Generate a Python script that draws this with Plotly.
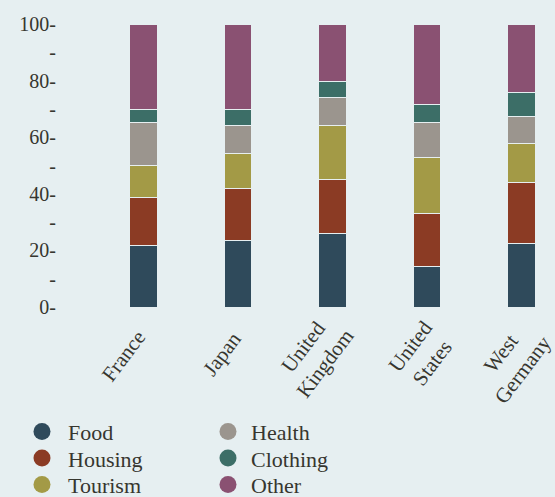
import plotly.graph_objects as go

countries = ["France", "Japan", "United Kingdom", "United States", "West Germany"]
country_labels = ["France", "Japan", "United<br>Kingdom", "United<br>States", "West<br>Germany"]
categories = ["Food", "Housing", "Tourism", "Health", "Clothing", "Other"]
food = [21.8, 23.4, 26.0, 14.2, 22.4]
housing = [16.8, 18.3, 19.2, 18.9, 21.5]
tourism = [11.3, 12.6, 18.8, 19.7, 14.0]
health = [15.3, 10.0, 10.0, 12.4, 9.4]
clothing = [4.5, 5.6, 5.7, 6.2, 8.5]
other = [30.3, 30.1, 20.3, 28.6, 24.2]
series = [food, housing, tourism, health, clothing, other]
colors = ["#2f4a5b", "#8b3b24", "#a39a46", "#9b958e", "#3c6e67", "#8a5172"]
y_ticks = list(range(0, 101, 10))
y_ticktext = [f"{v}-" if v % 20 == 0 else "-" for v in y_ticks]

bg = "#e6eff1"
ink = "#36362f"
font = "Liberation Serif"

W, H = 555, 497
M_L, M_R, M_T, M_B = 60, 10, 24, 190
plot_w = W - M_L - M_R
plot_h = H - M_T - M_B


def to_paper(px, py):
    return (px - M_L) / plot_w, (H - M_B - py) / plot_h


fig = go.Figure()
for name, vals, col in zip(categories, series, colors):
    fig.add_trace(go.Bar(
        x=countries, y=vals, name=name, showlegend=False,
        marker=dict(color=col, line=dict(color=bg, width=1)),
        width=0.29,
    ))

shapes, annotations = [], []

# Slanted country names under each bar (centre offsets in px from the bar)
label_offsets = [(-20, 49), (-16, 47), (-19, 48), (-6, 47), (-10, 54)]
for c, lab, (dx, dy) in zip(countries, country_labels, label_offsets):
    annotations.append(dict(
        x=c, y=0, xref="x", yref="y", text=lab, showarrow=False,
        xanchor="center", yanchor="middle", align="center",
        xshift=dx, yshift=-dy, textangle=-53,
        font=dict(family=font, size=21, color=ink),
    ))

# Key: two columns of three round swatches with labels
col_x = [(42, 66), (228, 249)]
row_y = [431.5, 458, 484.5]
for i, (name, col) in enumerate(zip(categories, colors)):
    cx, tx = col_x[i // 3]
    cy = row_y[i % 3]
    px, py = to_paper(cx, cy)
    shapes.append(dict(
        type="circle", xref="paper", yref="paper",
        xsizemode="pixel", ysizemode="pixel",
        xanchor=px, yanchor=py, x0=-8.5, x1=8.5, y0=-8.5, y1=8.5,
        fillcolor=col, line=dict(width=0),
    ))
    ax, ay = to_paper(tx, cy + 1)
    annotations.append(dict(
        x=ax, y=ay, xref="paper", yref="paper", text=name,
        showarrow=False, xanchor="left", yanchor="middle",
        font=dict(family=font, size=22, color=ink),
    ))

fig.update_layout(
    barmode="stack",
    width=W, height=H,
    margin=dict(l=M_L, r=M_R, t=M_T, b=M_B, autoexpand=False),
    paper_bgcolor=bg, plot_bgcolor=bg,
    font=dict(family=font, size=20, color=ink),
    showlegend=False,
    shapes=shapes, annotations=annotations,
)
fig.update_xaxes(
    range=[-0.884, 4.249], showgrid=False, showline=False, zeroline=False,
    showticklabels=False, ticks="",
)
fig.update_yaxes(
    range=[0, 100], tickvals=y_ticks, ticktext=y_ticktext,
    showgrid=False, showline=False, zeroline=False, ticks="",
    ticklabelstandoff=3,
    tickfont=dict(family=font, size=20, color=ink),
)
fig.write_html("out.html")
